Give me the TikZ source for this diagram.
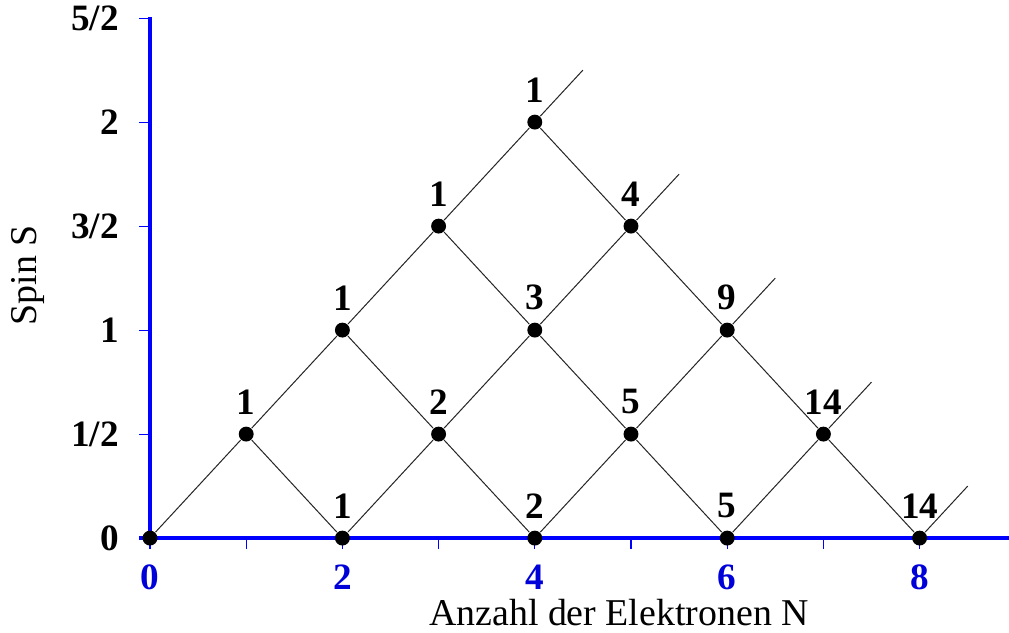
\documentclass[tikz,border=0pt]{standalone}
\usepackage{fontspec}
\setmainfont{Liberation Serif}
\usetikzlibrary{positioning}

\begin{document}
\begin{tikzpicture}[
    x=1cm, y=2.162cm,
    every node/.style={font=\fontsize{11.2}{13}\selectfont},
    state/.style={circle, fill=black, inner sep=0pt, minimum size=0.155cm},
    count/.style={font=\fontsize{11}{13}\selectfont\bfseries},
    bond/.style={draw=black!85, line width=0.3pt},
    axis/.style={draw=blue, line width=1pt},
    tick/.style={draw=blue, line width=0.35pt}
  ]
  \useasboundingbox (-1.559,-0.452) rectangle (8.929,2.587);
  % axes
  \coordinate (xa) at (-0.11,0);
  \coordinate (xb) at (8.929,0);
  \coordinate (o) at (0,0);
  \coordinate (yb) at (0,2.505);
  \draw[axis] (xa) -- (xb);
  \draw[axis] (o) -- (yb);
  \foreach \n in {0,...,8}
    \draw[tick] (\n,0) -- ++(0,-0.053);
  \foreach \n in {0,2,4,6,8}
    \node[count, text=blue!85!black] (xt\n) at (\n,-0.19) {\n};
  \foreach \s/\t in {0/0, 0.5/{1/2}, 1/1, 1.5/{3/2}, 2/2, 2.5/{5/2}} {
    \draw[tick] (0,\s) -- ++(-0.11,0);
    \node[count, anchor=east] at (-0.2,\s) {\t};
  }
  \node (xlab) at (4.875,-0.356) {Anzahl der Elektronen N};
  \node[rotate=90] (ylab) at (-1.27,1.264) {Spin S};
  % states
  \foreach \n/\m/\c in {1/1/1, 2/2/1, 3/3/1, 4/4/1,
                        2/0/1, 3/1/2, 4/2/3, 5/3/4,
                        4/0/2, 5/1/5, 6/2/9,
                        6/0/5, 7/1/14, 8/0/14}
    \node[state, label={[count]above:\c}] (d\n\m) at (\n,\m/2) {};
  \node[state] (d00) at (0,0) {};
  \coordinate (e44) at (4.5,2.25);
  \coordinate (e53) at (5.5,1.75);
  \coordinate (e62) at (6.5,1.25);
  \coordinate (e71) at (7.5,0.75);
  \coordinate (e80) at (8.5,0.25);
  % rising lines
  \draw[bond] (d00) -- (d11) -- (d22) -- (d33) -- (d44) -- (e44);
  \draw[bond] (d20) -- (d31) -- (d42) -- (d53) -- (e53);
  \draw[bond] (d40) -- (d51) -- (d62) -- (e62);
  \draw[bond] (d60) -- (d71) -- (e71);
  \draw[bond] (d80) -- (e80);
  % falling lines
  \draw[bond] (d11) -- (d20);
  \draw[bond] (d22) -- (d31) -- (d40);
  \draw[bond] (d33) -- (d42) -- (d51) -- (d60);
  \draw[bond] (d44) -- (d53) -- (d62) -- (d71) -- (d80);
\end{tikzpicture}
\end{document}
